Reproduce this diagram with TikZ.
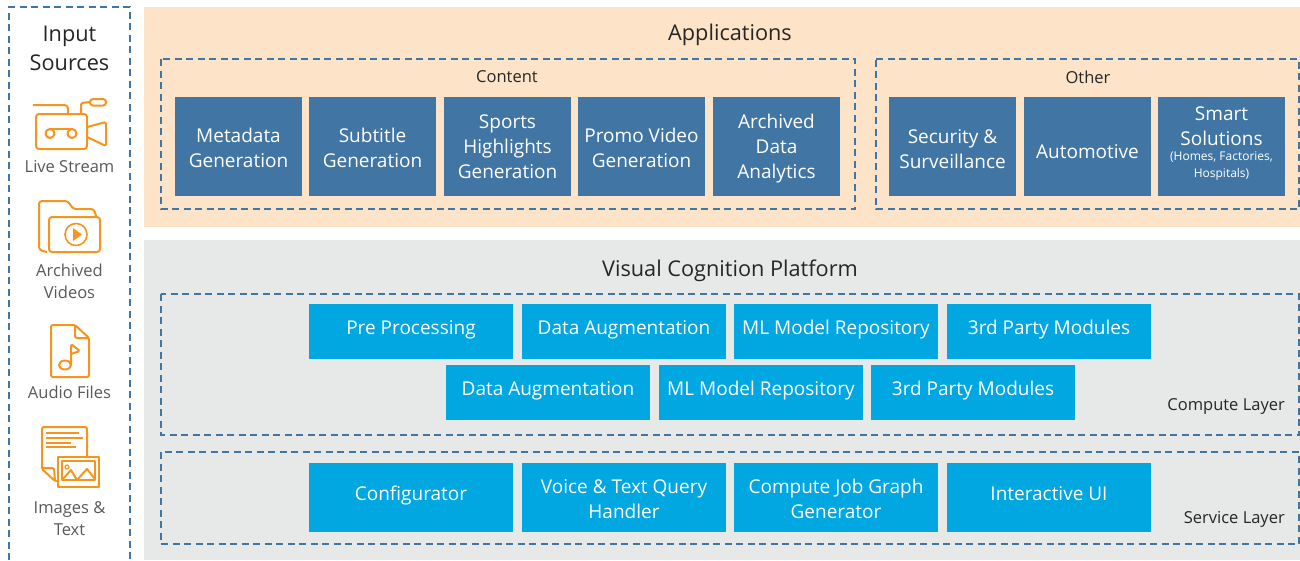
\documentclass[tikz,border=0pt]{standalone}
\usepackage{fontspec}
\setmainfont{Open Sans}
\definecolor{peach}{HTML}{FDE3C8}
\definecolor{lightgrey}{HTML}{E7E8E8}
\definecolor{steel}{HTML}{4176A4}
\definecolor{cyanbox}{HTML}{00A7E1}
\definecolor{iconorange}{HTML}{F7941E}
\definecolor{greytext}{HTML}{58595B}
\tikzset{
 appbox/.style={fill=steel,text=white,minimum width=127pt,minimum height=99pt,inner sep=0pt,align=center,font=\fontsize{19}{25}\selectfont},
 platbox/.style={fill=cyanbox,text=white,minimum width=204pt,minimum height=55pt,inner sep=0pt,align=center,text depth=8.5pt,font=\fontsize{19}{25}\selectfont},
 svcbox/.style={platbox,minimum height=69pt},
 dashbox/.style={draw=steel,line width=2pt,dash pattern=on 7pt off 4.5pt},
 srclabel/.style={text=greytext,align=center,font=\fontsize{16.5}{22}\selectfont},
 smallhead/.style={font=\fontsize{16.5}{20}\selectfont,text=black!85},
 bighead/.style={font=\fontsize{21.7}{26}\selectfont,text=black!85},
 icon/.style={draw=iconorange,line width=2pt,line join=round,rounded corners=1.5pt},
}
\newcommand{\smalltxt}[1]{{\fontsize{12}{14}\selectfont #1}}
\begin{document}
\begin{tikzpicture}[x=1pt,y=-1pt]
 \useasboundingbox (0,0) rectangle (1300,560);
 % backgrounds
 \fill[peach] (144,7) rectangle (1300,227);
 \fill[lightgrey] (144,240) rectangle (1300,560);
 % dashed frames
 \draw[dashbox] (9,560) -- (9,7) -- (130,7) -- (130,560);
 \draw[dashbox] (161,59) rectangle (855,209);
 \draw[dashbox] (876,59) -- (1299,59) -- (1299,209) -- (876,209) -- cycle;
 \draw[dashbox] (161,294) rectangle (1299,435);
 \draw[dashbox] (161,452) rectangle (1299,544);
 % titles
 \node (inputtitle) at (69.5,48) [align=center,font=\fontsize{21.7}{29}\selectfont,text=black!85] {Input\\Sources};
 \node[bighead] (apptitle) at (730,35) {Applications};
 \node[smallhead] (contenttitle) at (507,77) {Content};
 \node[smallhead] (othertitle) at (1088,77) {Other};
 \node[bighead] (plattitle) at (730,271) {Visual Cognition Platform};
 \node[smallhead,anchor=east,inner sep=0pt] (computelabel) at (1285,406) {Compute Layer};
 \node[smallhead,anchor=east,inner sep=0pt] (servicelabel) at (1285,519) {Service Layer};
 % applications
 \node[appbox,text height=43pt] (metadata) at (238.5,146.5) {Metadata\\Generation};
 \node[appbox,text height=43pt] (subtitle) at (372.5,146.5) {Subtitle\\Generation};
 \node[appbox] (sports) at (507.5,146.5) {Sports\\Highlights\\Generation};
 \node[appbox,text height=43pt] (promo) at (641.5,146.5) {Promo Video\\Generation};
 \node[appbox,text depth=0pt] (archived) at (776.5,146.5) {Archived\\Data\\Analytics};
 \node[appbox,text height=45pt] (security) at (952.5,146.5) {Security \&\\Surveillance};
 \node[appbox,text height=24pt] (automotive) at (1087.5,146.5) {Automotive};
 \node[appbox,text depth=8pt] (smart) at (1221.5,146.5) {Smart\\Solutions\\[-10pt]\smalltxt{(Homes, Factories,}\\[-8pt]\smalltxt{Hospitals)}};
 % compute layer
 \node[platbox] (prep) at (411,331.5) {Pre Processing};
 \node[platbox] (augone) at (624,331.5) {Data Augmentation};
 \node[platbox] (mlone) at (836,331.5) {ML Model Repository};
 \node[platbox] (thirdone) at (1049,331.5) {3rd Party Modules};
 \node[platbox] (augtwo) at (548,392.5) {Data Augmentation};
 \node[platbox] (mltwo) at (761,392.5) {ML Model Repository};
 \node[platbox] (thirdtwo) at (973,392.5) {3rd Party Modules};
 % service layer
 \node[svcbox] (config) at (411,497.5) {Configurator};
 \node[svcbox,text depth=0pt,text height=42pt] (voice) at (624,497.5) {Voice \& Text Query\\Handler};
 \node[svcbox,text depth=0pt,text height=42pt] (jobgraph) at (836,497.5) {Compute Job Graph\\Generator};
 \node[svcbox] (interactive) at (1049,497.5) {Interactive UI};
 % input sources
 \node[srclabel] (live) at (69.5,167) {Live Stream};
 \node[srclabel] (videos) at (69.5,281) {Archived\\Videos};
 \node[srclabel] (audio) at (69.5,392) {Audio Files};
 \node[srclabel] (images) at (69.5,519) {Images \&\\Text};
 % camera icon
 \draw[icon,rounded corners=3pt] (36,114) rectangle (87,149);
 \draw[icon] (87,127) -- (106,122) -- (106,146) -- (87,137);
 \draw[icon] (33,105) -- (66,105) -- (68,107) -- (68,114);
 \draw[icon] (81,114) -- (81,103) -- (90,102);
 \draw[icon,rounded corners=3pt] (90,99) rectangle (106,105.5);
 \draw[icon] (50,133.5) circle (4.5) (72,133.5) circle (4.5);
 \draw[icon] (50,129) -- (72,129);
 % folder icon
 \draw[icon,rounded corners=3pt] (47,252) -- (39,250) -- (39,201) -- (68,201) -- (73,209) -- (94,209) -- (96,216);
 \draw[icon,rounded corners=3pt] (49,217) rectangle (100,252);
 \draw[icon,line width=1.6pt] (76,234.5) circle (11);
 \fill[iconorange] (73,228) -- (82,234.5) -- (73,241) -- cycle;
 % audio icon
 \draw[icon] (75,325) -- (51,325) -- (51,377) -- (89,377) -- (89,338) -- cycle;
 \draw[icon] (75,325) -- (75,338) -- (89,338);
 \draw[icon] (65,365) ellipse (6 and 4.5);
 \draw[icon] (71,365) -- (71,344) -- (80,351) -- (71,354);
 % document and image icon
 \draw[icon] (58,481) -- (55,481) -- (42,469) -- (42,427) -- (87,427) -- (87,457);
 \draw[icon] (42,468) -- (54,468) -- (55,481);
 \draw[icon,rounded corners=0pt] (46,433) -- (79,433) (46,437.5) -- (83,437.5) (46,443) -- (71,443) (46,447) -- (76,447);
 \draw[icon,rounded corners=0pt] (58,457) rectangle (99,487);
 \draw[icon,rounded corners=0pt] (62,461) rectangle (95,480);
 \draw[icon,rounded corners=0pt] (62,480) -- (71,470) -- (77,480) -- (87,469) -- (95,479);
 \draw[icon,line width=1.2pt] (67,467) circle (2);
\end{tikzpicture}
\end{document}
